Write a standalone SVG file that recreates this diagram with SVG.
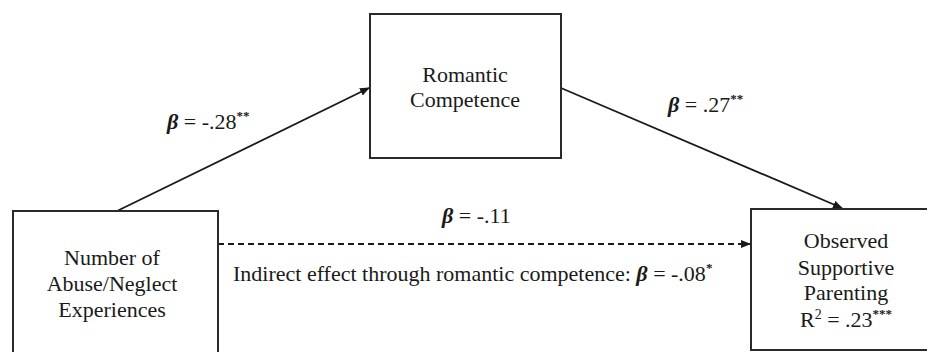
<svg xmlns="http://www.w3.org/2000/svg" width="927" height="352" viewBox="0 0 927 352">
<style>
.box{fill:#fff;stroke:#2a2a2a;stroke-width:2}
.t{font-family:"Liberation Serif","Times New Roman",serif;font-size:22px;fill:#1a1a1a}
.c{text-anchor:middle}
.s{font-size:13px;font-weight:bold}
.sup{font-size:14px}
.b{font-style:italic;font-weight:bold}
.ln{stroke:#1a1a1a;stroke-width:1.8;fill:none}
</style>
<defs>
<marker id="ah" markerWidth="10" markerHeight="8" refX="9" refY="4" orient="auto" markerUnits="userSpaceOnUse">
<path d="M0,0 L10,4 L0,8 Z" fill="#1a1a1a"/>
</marker>
</defs>
<rect width="927" height="352" fill="#fff"/>
<g id="connectors">
<line class="ln" x1="117" y1="211" x2="369" y2="88" marker-end="url(#ah)"/>
<line class="ln" x1="561" y1="88" x2="842" y2="208" marker-end="url(#ah)"/>
<line class="ln" x1="218" y1="244" x2="750" y2="244" stroke-dasharray="6,4" marker-end="url(#ah)"/>
<text class="t" x="167" y="129"><tspan class="b">β</tspan> = -.28<tspan class="s" dy="-9">**</tspan></text>
<text class="t" x="668" y="112"><tspan class="b">β</tspan> = .27<tspan class="s" dy="-9">**</tspan></text>
<text class="t" x="442" y="223"><tspan class="b">β</tspan> = -.11</text>
<text class="t" x="233" y="281">Indirect effect through romantic competence: <tspan class="b">β</tspan> = -.08<tspan class="s" dy="-9">*</tspan></text>
</g>
<g id="node-abuse">
<rect class="box" x="13" y="211" width="205" height="160"/>
<text class="t c" x="112" y="265">Number of</text>
<text class="t c" x="112" y="291">Abuse/Neglect</text>
<text class="t c" x="112" y="317">Experiences</text>
</g>
<g id="node-romantic">
<rect class="box" x="370" y="14" width="191" height="144"/>
<text class="t c" x="465" y="82">Romantic</text>
<text class="t c" x="465" y="107">Competence</text>
</g>
<g id="node-parenting">
<rect class="box" x="751" y="209" width="190" height="141"/>
<text class="t c" x="846" y="248">Observed</text>
<text class="t c" x="846" y="275">Supportive</text>
<text class="t c" x="846" y="300">Parenting</text>
<text class="t c" x="846" y="327">R<tspan class="sup" dy="-8">2</tspan><tspan dy="8"> = .23</tspan><tspan class="s" dy="-9">***</tspan></text>
</g>
</svg>
